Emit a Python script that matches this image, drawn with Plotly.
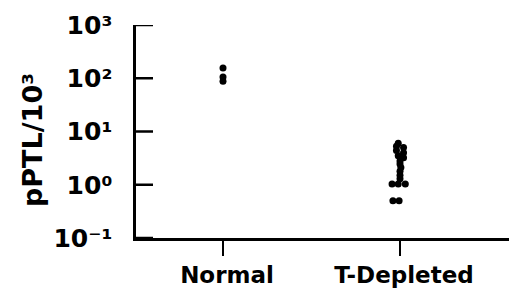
import plotly.graph_objects as go

# ---- data ----
categories = ["Normal", "T-Depleted"]
normal_values = [156, 105, 88]
normal_jitter = [0.0, 0.0, 0.0]
tdep_values = [6.0, 5.3, 5.0, 4.4, 4.0, 3.5, 3.2, 2.8, 2.45, 2.1, 1.8, 1.5, 1.3,
               1.03, 1.03, 1.03, 0.50, 0.50]
tdep_jitter = [-0.01, -0.02, 0.02, -0.02, 0.02, -0.01, 0.02, 0.0, 0.0, 0.005, 0.0, 0.0, 0.0,
               -0.045, -0.01, 0.03, -0.04, -0.005]
ytick_vals = [0.1, 1, 10, 100, 1000]
ytick_text = ["10⁻¹", "10⁰", "10¹", "10²", "10³"]
y_title = "pPTL/10³"

FONT = "DejaVu Sans"
PLOT_W = 381  # plot-area width in px
TICK_LEN = 17

fig = go.Figure()
fig.add_trace(go.Scatter(
    x=[1 + j for j in normal_jitter], y=normal_values, mode="markers",
    marker=dict(color="black", size=7), showlegend=False))
fig.add_trace(go.Scatter(
    x=[2 + j for j in tdep_jitter], y=tdep_values, mode="markers",
    marker=dict(color="black", size=7), showlegend=False))

# inward y ticks at the axis tick values
for v in ytick_vals:
    fig.add_shape(type="line", xref="paper", yref="y",
                  x0=0, x1=TICK_LEN / PLOT_W, y0=v, y1=v,
                  line=dict(color="black", width=2.5), layer="above")

# page body has an 8px default margin; figure is sized to land the plot where the reference has it
fig.update_layout(
    template="none",
    width=509, height=294,
    margin=dict(l=128, r=0, t=17, b=64, pad=0),
    paper_bgcolor="white", plot_bgcolor="white",
    font=dict(family=FONT, color="black"),
    xaxis=dict(
        range=[0.5085, 2.661], showgrid=False, zeroline=False, automargin=False,
        showline=True, linecolor="black", linewidth=2.5,
        tickmode="array", tickvals=[1, 2], ticktext=[f"<b>{c}</b>" for c in categories],
        ticks="outside", ticklen=15, tickwidth=2, tickcolor="black",
        tickfont=dict(family=FONT, size=23, color="black"),
        ticklabelshift=4,
    ),
    yaxis=dict(
        type="log", range=[-1, 3], showgrid=False, zeroline=False, automargin=False,
        showline=True, linecolor="black", linewidth=2.5,
        tickmode="array", tickvals=ytick_vals,
        ticktext=[f"<b>{t}</b>" + "\u00a0" * 2 for t in ytick_text],
        ticks="",
        tickfont=dict(family=FONT, size=25, color="black"),
    ),
    annotations=[dict(
        text=f"<b>{y_title}</b>", textangle=-90,
        xref="paper", yref="paper", x=(32 - 136) / PLOT_W, y=1 - (140 - 25) / 213,
        xanchor="center", yanchor="middle", showarrow=False,
        font=dict(family=FONT, size=27, color="black"))],
)

fig.write_html("out.html")
